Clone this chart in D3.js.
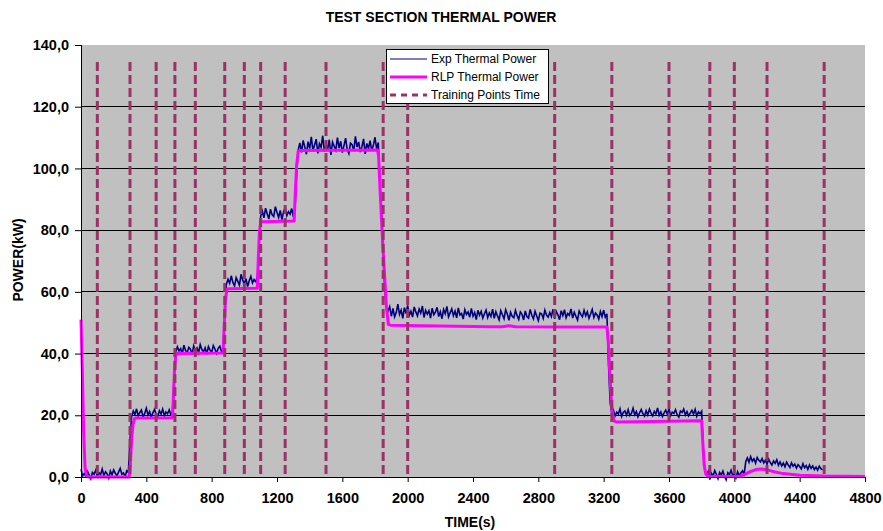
<!DOCTYPE html>
<html>
<head>
<meta charset="utf-8">
<script src="https://cdn.jsdelivr.net/npm/d3@7"></script>
<style>
  body { margin: 0; background: #fff; }
  text { font-family: "Liberation Sans", Arial, sans-serif; }
</style>
</head>
<body>
<script>
let width = 883;
let height = 531;

// chart data
const xTicks = [0, 400, 800, 1200, 1600, 2000, 2400, 2800, 3200, 3600, 4000, 4400, 4800];
const yTicks = [0, 20, 40, 60, 80, 100, 120, 140];

// training points time (s)
const trainTimes = [100, 300, 460, 575, 700, 880, 1000, 1100, 1250, 1500, 1850, 2000, 2900, 3250, 3600, 3850, 4000, 4200, 4550];
const trainTop = 134.5;

// experimental thermal power, sampled every 10 s from t = 0
const expStep = 10;
const expPower = [
	2.5, 0.4, 1.1, 0.2, 1.8, 0.6, -0.6, 1.5, 0.9, 2.2,
	0.3, 1.4, 0.8, 2.6, 0.5, 1.7, 1.0, -0.4, 1.9, 0.7,
	2.3, 1.2, 0.4, 1.6, 2.8, 0.9, 1.3, 0.1, 2.0, 1.5,
	12,
	19.6, 21.4, 20.2, 22.1, 19.8, 20.9, 21.7, 19.5, 20.6, 22.3,
	20.1, 21.2, 19.4, 20.8, 21.9, 20.3, 19.7, 21.5, 20.4, 22.0,
	19.9, 21.1, 20.5, 21.8, 20.2, 21.0,
	33,
	40.5, 42.2, 40.8, 41.6, 39.9, 42.7, 41.0, 40.3, 42.0, 41.4,
	39.7, 42.5, 40.9, 41.8, 40.2, 42.9, 41.3, 40.6, 41.9, 39.8,
	42.3, 41.1, 40.4, 42.6, 41.5, 40.1, 41.7, 42.4, 40.7, 41.2,
	54,
	62.5, 64.1, 62.8, 65.2, 63.0, 61.9, 64.6, 63.4, 62.2, 65.7,
	63.8, 62.6, 64.3, 61.7, 63.6, 65.0, 62.9, 64.0, 63.3, 64.8,
	76,
	84.5, 86.2, 84.0, 87.1, 85.3, 83.6, 86.8, 85.0, 84.4, 87.6,
	85.7, 84.1, 86.4, 83.4, 85.9, 87.3, 84.7, 86.0, 85.2, 87.0,
	84.3, 86.5,
	98,
	106.0, 108.3, 105.2, 109.1, 107.0, 104.6, 108.7, 106.4, 110.2, 105.8,
	107.6, 109.5, 104.9, 108.0, 106.8, 110.6, 105.5, 107.9, 106.2, 109.3,
	104.4, 108.5, 107.2, 105.9, 110.0, 106.6, 108.8, 105.1, 107.4, 109.8,
	106.1, 104.8, 108.2, 107.7, 105.6, 110.4, 106.9, 108.6, 105.3, 107.1,
	109.6, 104.7, 108.1, 106.5, 109.0, 105.7, 107.5, 110.1, 106.3, 108.4,
	96, 84, 71, 61, 55,
	53.8, 55.2, 52.1, 54.6, 51.9, 53.3, 56.0, 52.7, 54.1, 51.4,
	54.9, 53.0, 55.6, 52.4, 53.7, 51.8, 55.1, 53.5, 52.2, 54.4,
	53.1, 55.4, 51.7, 54.0, 52.8, 53.9, 51.5, 54.7, 52.6, 53.4,
	55.0, 52.0, 53.6, 51.3, 54.3, 52.9, 55.3, 51.9, 53.2, 54.5,
	52.3, 53.8, 51.6, 54.8, 52.5, 53.0, 51.2, 54.2, 52.7, 53.5,
	51.8, 54.6, 52.1, 53.3, 51.0, 54.0, 52.4, 53.7, 51.5, 52.9,
	54.1, 51.7, 53.2, 52.0, 54.4, 51.4, 53.6, 52.2, 50.9, 53.9,
	52.6, 51.3, 54.2, 52.8, 50.8, 53.4, 52.1, 51.6, 54.0, 52.3,
	51.1, 53.5, 52.7, 50.9, 53.8, 52.0, 51.5, 54.3, 52.4, 51.2,
	53.7, 52.2, 50.7, 53.1, 52.9, 51.4, 54.1, 52.5, 51.8, 53.3,
	52.0, 54.4, 51.3, 53.6, 52.6, 51.0, 53.9, 52.3, 54.2, 51.6,
	53.0, 52.4, 54.5, 51.5, 53.4, 52.1, 50.9, 53.8, 52.7, 51.9,
	54.0, 52.2, 53.5, 51.4, 52.8, 54.3, 51.7, 53.1, 52.5, 51.2,
	53.6, 52.0, 54.1, 51.8, 52.9,
	36, 24,
	20.3, 21.6, 19.8, 21.0, 20.4, 22.1, 19.6, 20.9, 21.4, 20.0,
	21.8, 19.9, 20.6, 22.3, 20.2, 21.2, 19.5, 20.8, 21.9, 20.5,
	19.7, 21.5, 20.1, 22.0, 20.7, 19.8, 21.3, 20.4, 22.4, 20.0,
	21.1, 19.6, 20.8, 21.7, 20.3, 22.2, 19.9, 21.0, 20.6, 21.8,
	20.2, 19.4, 21.4, 20.9, 22.0, 20.1, 21.2, 19.8, 20.7, 21.6,
	20.4, 21.9, 19.7, 21.1, 20.5, 21.3,
	9, 2,
	0.6, 1.8, -0.8, 1.2, 0.3, 2.1, 0.9, -0.5, 1.5, 0.7,
	1.9, 0.2, -0.9, 1.4, 0.8, 2.2, 0.4, 1.1, -0.3, 1.7,
	0.5, 1.3, 2.0, 0.9,
	5.0,
	6.2, 4.8, 6.6, 5.1, 5.9, 4.5, 6.3, 5.4, 4.9, 6.0,
	4.6, 5.5, 4.1, 5.8, 4.7, 3.9, 5.2, 4.4, 5.6, 3.8,
	4.9, 3.6, 4.5, 3.3, 4.8, 3.9, 3.1, 4.6, 3.5, 4.2,
	2.9, 4.0, 3.4, 2.6, 4.3, 3.0, 3.7, 2.5, 3.9, 2.8,
	3.6, 2.4, 3.2, 2.2, 3.5, 2.7, 2.3
];

// RLP thermal power: time (s), power (kW)
const rlpTime = [0, 8, 16, 25, 35, 50, 295, 302, 310, 318, 328, 340, 560, 565, 572, 580, 590,
	870, 876, 884, 893, 905, 1080, 1085, 1092, 1100, 1110, 1305, 1312, 1320, 1330, 1345,
	1815, 1822, 1832, 1845, 1858, 1870, 1882, 1895, 2100, 2500, 2580, 2620, 2660, 3000, 3220,
	3228, 3238, 3250, 3262, 3280, 3500, 3800, 3806, 3815, 3825, 3840, 4030, 4060, 4100, 4140,
	4170, 4200, 4250, 4300, 4400, 4550, 4800];
const rlpPower = [51, 35, 15, 3, 0.3, 0, 0, 4, 12, 17, 19, 19.1, 19.2, 25, 34, 39.5, 40,
	40.2, 48, 57, 60.8, 61, 61.2, 70, 79, 82.6, 82.7, 83, 92, 101, 105.6, 105.8,
	106, 104, 92, 78, 66, 55, 49.5, 49.2, 49, 48.7, 48.7, 49.0, 48.7, 48.6, 48.6,
	44, 33, 22, 18.2, 17.8, 18, 18.2, 12, 4, 1, 0.2, 0.2, 0.8, 1.8, 2.5,
	2.6, 2.3, 1.6, 1.1, 0.6, 0.3, 0.2];

const legendNames = ['Exp Thermal Power', 'RLP Thermal Power', 'Training Points Time'];

const expColor = '#000080';
const rlpColor = '#ff00ff';
const trainColor = '#993366';

let svg = d3.select('body').append('svg')
	.attr('width', width)
	.attr('height', height)
	.style('background-color', '#fff');

let x = d3.scaleLinear().domain([0, 4800]).range([81, 865]);
let y = d3.scaleLinear().domain([0, 140]).range([477, 45]);

// plot area
svg.append('rect')
	.attr('x', x(0))
	.attr('y', y(140))
	.attr('width', x(4800) - x(0))
	.attr('height', y(0) - y(140))
	.style('fill', '#c0c0c0');

// gridlines
svg.selectAll('.grid')
	.data(yTicks.filter(d => d > 0 && d < 140))
	.enter().append('line')
	.attr('class', 'grid')
	.attr('x1', x(0))
	.attr('x2', x(4800))
	.attr('y1', d => y(d))
	.attr('y2', d => y(d))
	.style('stroke', '#000')
	.style('stroke-width', 1)
	.attr('shape-rendering', 'crispEdges');

// exp line
let expData = expPower.map((v, i) => [i * expStep, v]);
svg.append('path')
	.datum(expData)
	.attr('d', d3.line().x(d => x(d[0])).y(d => y(d[1])))
	.style('fill', 'none')
	.style('stroke', expColor)
	.style('stroke-width', 1.6);

// rlp line
let rlpData = rlpTime.map((t, i) => [t, rlpPower[i]]);
svg.append('path')
	.datum(rlpData)
	.attr('d', d3.line().x(d => x(d[0])).y(d => y(d[1])))
	.style('fill', 'none')
	.style('stroke', rlpColor)
	.style('stroke-width', 3)
	.style('stroke-linejoin', 'round');

// training points time
svg.selectAll('.train')
	.data(trainTimes)
	.enter().append('line')
	.attr('class', 'train')
	.attr('x1', d => x(d))
	.attr('x2', d => x(d))
	.attr('y1', y(trainTop))
	.attr('y2', y(0))
	.style('stroke', trainColor)
	.style('stroke-width', 3)
	.style('stroke-dasharray', '9,4');

// axes
let xAxis = svg.append('g')
	.attr('transform', 'translate(0,' + y(0) + ')')
	.call(d3.axisBottom(x).tickValues(xTicks).tickFormat(d3.format('d')).tickSize(5).tickPadding(11));
let yAxis = svg.append('g')
	.attr('transform', 'translate(' + x(0) + ',0)')
	.call(d3.axisLeft(y).tickValues(yTicks).tickFormat(d => d3.format('.1f')(d).replace('.', ',')).tickSize(6).tickPadding(6));

for (let ax of [xAxis, yAxis]) {
	ax.select('.domain').style('stroke', '#000').attr('shape-rendering', 'crispEdges');
	ax.selectAll('.tick line').style('stroke', '#000');
	ax.selectAll('.tick text')
		.style('font-family', '"Liberation Sans", Arial, sans-serif')
		.style('font-size', '14.5px')
		.style('font-weight', 'bold')
		.style('fill', '#000');
}
yAxis.select('.domain').attr('d', 'M0.5,' + y(140) + 'V' + y(0));
xAxis.select('.domain').attr('d', 'M' + x(0) + ',0.5H' + x(4800));

// titles
svg.append('text')
	.attr('x', 441)
	.attr('y', 22)
	.attr('text-anchor', 'middle')
	.style('font-size', '14px')
	.style('font-weight', 'bold')
	.text('TEST SECTION THERMAL POWER');

svg.append('text')
	.attr('x', 470)
	.attr('y', 527)
	.attr('text-anchor', 'middle')
	.style('font-size', '14px')
	.style('font-weight', 'bold')
	.text('TIME(s)');

svg.append('text')
	.attr('transform', 'translate(23,260) rotate(-90)')
	.attr('text-anchor', 'middle')
	.style('font-size', '14px')
	.style('font-weight', 'bold')
	.text('POWER(kW)');

// legend
let legend = svg.append('g').attr('transform', 'translate(386,49)');
legend.append('rect')
	.attr('x', 0.5)
	.attr('y', 0.5)
	.attr('width', 162)
	.attr('height', 54)
	.style('fill', '#fff')
	.style('stroke', '#000')
	.style('stroke-width', 1);

let legendStyles = [
	{ color: expColor, w: 1, dash: null },
	{ color: rlpColor, w: 3, dash: null },
	{ color: trainColor, w: 3, dash: '6,5' }
];
legendNames.forEach((name, i) => {
	let ly = 10 + i * 18;
	legend.append('line')
		.attr('x1', 4)
		.attr('x2', 41)
		.attr('y1', ly)
		.attr('y2', ly)
		.style('stroke', legendStyles[i].color)
		.style('stroke-width', legendStyles[i].w)
		.style('stroke-dasharray', legendStyles[i].dash);
	legend.append('text')
		.attr('x', 45)
		.attr('y', ly)
		.attr('dy', '0.35em')
		.style('font-size', '12px')
		.text(name);
});
</script>
</body>
</html>
